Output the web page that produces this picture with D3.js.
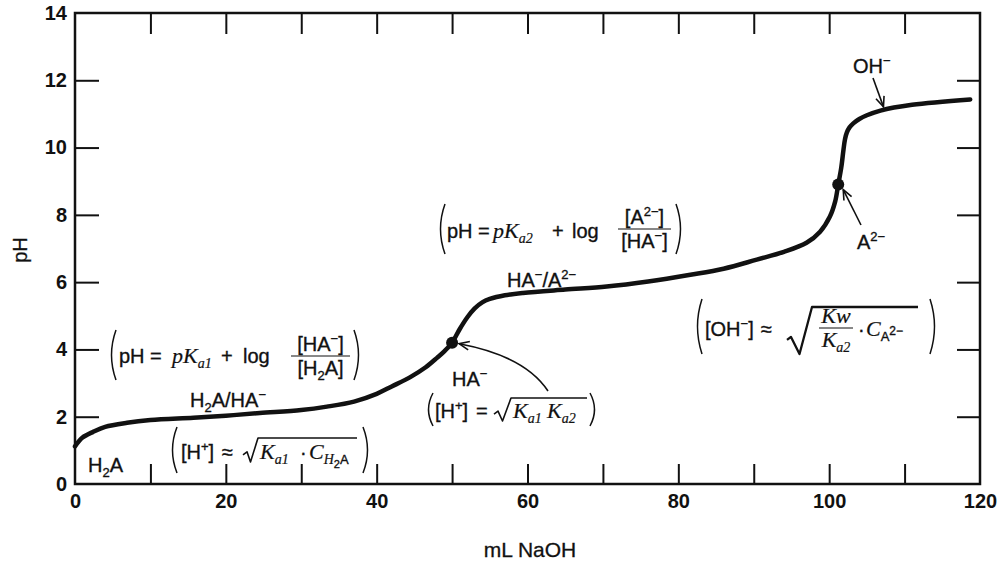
<!DOCTYPE html>
<html>
<head>
<meta charset="utf-8">
<script src="https://cdn.jsdelivr.net/npm/d3@7"></script>
<style>
  body { margin: 0; background: #fff; }
  svg { display: block; }
</style>
</head>
<body>
<div id="chart"></div>
<script>
// titration curve of a diprotic acid H2A with NaOH
const volumeML = [0, 1, 2.4, 4, 6.9, 10, 15.7, 20, 24.5, 30, 33.4, 37, 40, 42, 44.4, 46.5, 48, 49, 50, 51, 52, 53, 54, 55, 57, 59.4, 65, 70.5, 76, 81.6, 86, 90.4, 94, 97, 98.8, 100.1, 100.8, 101.2, 101.6, 101.9, 102.1, 102.35, 102.7, 103.2, 104, 105, 106.8, 111, 118.7];
const pHValues = [1.12, 1.38, 1.55, 1.7, 1.82, 1.9, 1.97, 2.03, 2.11, 2.2, 2.3, 2.45, 2.68, 2.9, 3.17, 3.47, 3.75, 3.95, 4.2, 4.6, 4.95, 5.22, 5.4, 5.5, 5.61, 5.68, 5.78, 5.87, 6.02, 6.22, 6.4, 6.67, 6.9, 7.17, 7.5, 7.95, 8.4, 8.9, 9.4, 9.94, 10.25, 10.45, 10.6, 10.72, 10.85, 10.96, 11.1, 11.27, 11.43];
const pointML = [50, 101.2];
const pointPH = [4.2, 8.9];
const xTickLabels = [0, 20, 40, 60, 80, 100, 120];
const xTicks = [10, 20, 30, 40, 50, 60, 70, 80, 90, 100, 110];
const yTickLabels = [0, 2, 4, 6, 8, 10, 12, 14];
const yTicks = [2, 4, 6, 8, 10, 12];

const W = 1003, H = 563;
const SANS = '"Liberation Sans", Arial, sans-serif';
const SERIF = '"Liberation Serif", "Times New Roman", serif';
const INK = '#111';

const svg = d3.select('#chart').append('svg').attr('width', W).attr('height', H);

const x = d3.scaleLinear().domain([0, 120]).range([75, 980]);
const y = d3.scaleLinear().domain([0, 14]).range([484, 13]);

// tick labels
const xLab = svg.append('g').attr('transform', `translate(0,${y(0)})`)
  .call(d3.axisBottom(x).tickValues(xTickLabels).tickSize(0).tickPadding(10));
const yLab = svg.append('g').attr('transform', `translate(${x(0)},0)`)
  .call(d3.axisLeft(y).tickValues(yTickLabels).tickSize(0).tickPadding(8));
[xLab, yLab].forEach(a => {
  a.select('.domain').remove();
  a.selectAll('text').style('font-family', SANS).style('font-weight', 'bold')
    .style('font-size', '20px').style('fill', INK);
});

// inward ticks on all four sides
const inner = [
  svg.append('g').attr('transform', `translate(0,${y(0)})`).call(d3.axisTop(x).tickValues(xTicks).tickSize(20)),
  svg.append('g').attr('transform', `translate(0,${y(14)})`).call(d3.axisBottom(x).tickValues(xTicks).tickSize(21)),
  svg.append('g').attr('transform', `translate(${x(0)},0)`).call(d3.axisRight(y).tickValues(yTicks).tickSize(24)),
  svg.append('g').attr('transform', `translate(${x(120)},0)`).call(d3.axisLeft(y).tickValues(yTicks).tickSize(23))
];
inner.forEach(a => {
  a.select('.domain').remove();
  a.selectAll('text').remove();
  a.selectAll('line').attr('stroke', INK).attr('stroke-width', 2);
});

svg.append('rect')
  .attr('x', x(0)).attr('y', y(14)).attr('width', x(120) - x(0)).attr('height', y(0) - y(14))
  .attr('fill', 'none').attr('stroke', INK).attr('stroke-width', 2.5);

// axis titles
svg.append('text').attr('x', 530).attr('y', 557).attr('text-anchor', 'middle')
  .style('font-family', SANS).style('font-size', '21px').style('fill', INK)
  .style('stroke', INK).style('stroke-width', 0.3).text('mL NaOH');
svg.append('text').attr('transform', 'translate(27,250) rotate(-90)').attr('text-anchor', 'middle')
  .style('font-family', SANS).style('font-size', '20px').style('fill', INK)
  .style('stroke', INK).style('stroke-width', 0.3).text('pH');

// curve
const pts = volumeML.map((v, i) => [v, pHValues[i]]);
svg.append('path').datum(pts)
  .attr('d', d3.line().x(d => x(d[0])).y(d => y(d[1])).curve(d3.curveCatmullRom.alpha(0.5)))
  .attr('fill', 'none').attr('stroke', INK).attr('stroke-width', 4.5).attr('stroke-linecap', 'round');

svg.selectAll('.eq').data(pointML).enter().append('circle')
  .attr('cx', d => x(d)).attr('cy', (d, i) => y(pointPH[i])).attr('r', 6).attr('fill', INK);

// ---- text helpers ----
const sup = t => ({ t, s: 13, dy: -8 });
const sub = t => ({ t, s: 13, dy: 5 });
const it = t => ({ t, f: 'i', s: 22 });
const subI = t => ({ t, f: 'i', s: 14, dy: 5 });
const ann = svg.append('g').style('fill', INK);

function seq(parent, pieces) {
  const g = parent.append('g');
  let cx = 0;
  pieces.forEach(p => {
    if (typeof p === 'string') p = { t: p };
    const t = g.append('text').attr('x', cx).attr('y', p.dy || 0)
      .style('font-family', p.f === 'i' ? SERIF : SANS)
      .style('font-style', p.f === 'i' ? 'italic' : 'normal')
      .style('font-size', (p.s || 20) + 'px')
      .style('white-space', 'pre')
      .style('stroke', INK).style('stroke-width', p.f === 'i' ? 0.2 : 0.35)
      .text(p.t);
    cx += t.node().getComputedTextLength();
  });
  return { g, w: cx };
}
function place(pieces, px, py) {
  const s = seq(ann, pieces);
  s.g.attr('transform', `translate(${px},${py})`);
  return px + s.w;
}
function frac(x1, x2, lineY, num, den) {
  const a = seq(ann, num), b = seq(ann, den);
  const mid = (x1 + x2) / 2;
  a.g.attr('transform', `translate(${mid - a.w / 2},${lineY - 5})`);
  b.g.attr('transform', `translate(${mid - b.w / 2},${lineY + 19})`);
  ann.append('line').attr('x1', x1).attr('x2', x2).attr('y1', lineY).attr('y2', lineY)
    .attr('stroke', INK).attr('stroke-width', 1);
}
function paren(px, top, bot, dir) {
  ann.append('path')
    .attr('d', `M${px + dir * 4},${top} Q${px - dir * 5},${(top + bot) / 2} ${px + dir * 4},${bot}`)
    .attr('fill', 'none').attr('stroke', INK).attr('stroke-width', 1.5);
}
function radical(x0, x1, top, bot, x2, sw) {
  const mid = bot - (bot - top) * 0.3;
  ann.append('path')
    .attr('d', `M${x0},${mid} L${x0 + 4},${mid - 3} L${x0 + (x1 - x0) * 0.5},${bot} L${x1},${top} L${x2},${top}`)
    .attr('fill', 'none').attr('stroke', INK).attr('stroke-width', sw || 1.6).attr('stroke-linejoin', 'round');
}

// species labels
place(['H', sub('2'), 'A'], 88, 472);
place(['H', sub('2'), 'A/HA', sup('\u2212')], 190, 407);
place(['HA', sup('\u2212'), '/A', sup('2\u2212')], 507, 287);
place(['HA', sup('\u2212')], 452, 386);
place(['OH', sup('\u2212')], 853, 73);
place(['A', sup('2\u2212')], 857, 249);

// (pH = pKa1 + log [HA-]/[H2A])
paren(112, 330, 380, 1);
place(['pH ='], 119, 363);
place([it('pK'), subI('a1')], 172, 363);
place(['+'], 221, 363);
place(['log'], 243, 363);
frac(291, 350, 356, ['[HA', sup('\u2212'), ']'], ['[H', sub('2'), 'A]']);
paren(358, 330, 380, -1);

// (pH = pKa2 + log [A2-]/[HA-])
paren(441, 204, 254, 1);
place(['pH ='], 447, 238);
place([it('pK'), subI('a2')], 493, 238);
place(['+'], 552, 238);
place(['log'], 572, 238);
frac(618, 671, 229, ['[A', sup('2\u2212'), ']'], ['[HA', sup('\u2212'), ']']);
paren(680, 204, 254, -1);

// ([H+] ≈ sqrt(Ka1 · C_H2A))
paren(173, 427, 473, 1);
place(['[H', sup('+'), ']'], 181, 459);
place(['\u2248'], 222, 459);
radical(243, 258, 438, 462, 357);
place([it('K'), subI('a1')], 260, 459);
place(['\u00b7'], 300, 459);
place([it('C'), { t: 'H', f: 'i', s: 14, dy: 5 }, { t: '2', s: 11, dy: 9 }, { t: 'A', s: 13, dy: 5 }], 309, 459);
paren(367, 427, 473, -1);

// ([H+] = sqrt(Ka1 Ka2))
paren(429, 393, 426, 1);
place(['[H', sup('+'), ']'], 435, 418);
place(['='], 476, 418);
radical(494, 511, 398, 421, 587);
place([it('K'), subI('a1')], 513, 418);
place([it('K'), subI('a2')], 547, 418);
paren(594, 393, 426, -1);

// ([OH-] ≈ sqrt(Kw/Ka2 · C_A2-))
paren(698, 299, 354, 1);
place(['[OH', sup('\u2212'), ']'], 705, 336);
place(['\u2248'], 761, 336);
radical(787, 812, 307, 354, 918, 2.3);
frac(819, 853, 328, [it('Kw')], [it('K'), subI('a2')]);
place(['\u00b7'], 858, 336);
place([it('C'), { t: 'A', s: 13, dy: 5 }, { t: '2\u2212', s: 12, dy: -1 }], 866, 336);
paren(934, 299, 354, -1);

// arrows
function arrowHead(tx, ty, fx0, fy0) {
  const a = Math.atan2(ty - fy0, tx - fx0), L = 11, s = 0.4;
  ann.append('path')
    .attr('d', `M${tx - L * Math.cos(a - s)},${ty - L * Math.sin(a - s)} L${tx},${ty} L${tx - L * Math.cos(a + s)},${ty - L * Math.sin(a + s)}`)
    .attr('fill', 'none').attr('stroke', INK).attr('stroke-width', 1.6);
}
// OH- arrow to the curve
const ohX = x(107.2), ohY = y(11.12) - 3;
ann.append('line').attr('x1', 873).attr('y1', 78).attr('x2', ohX).attr('y2', ohY).attr('stroke', INK).attr('stroke-width', 1.6);
arrowHead(ohX, ohY, 873, 78);
// A2- arrow to second point
const aX = x(pointML[1]) + 5, aY = y(pointPH[1]) + 5;
ann.append('line').attr('x1', 861).attr('y1', 225).attr('x2', aX).attr('y2', aY).attr('stroke', INK).attr('stroke-width', 1.6);
arrowHead(aX, aY, 861, 225);
// HA- curved arrow to first point
const hX = x(pointML[0]) + 7, hY = y(pointPH[0]) + 1;
ann.append('path').attr('d', `M548,391 Q525,356 ${hX},${hY}`)
  .attr('fill', 'none').attr('stroke', INK).attr('stroke-width', 1.6);
arrowHead(hX, hY, 500, 352);
</script>
</body>
</html>
